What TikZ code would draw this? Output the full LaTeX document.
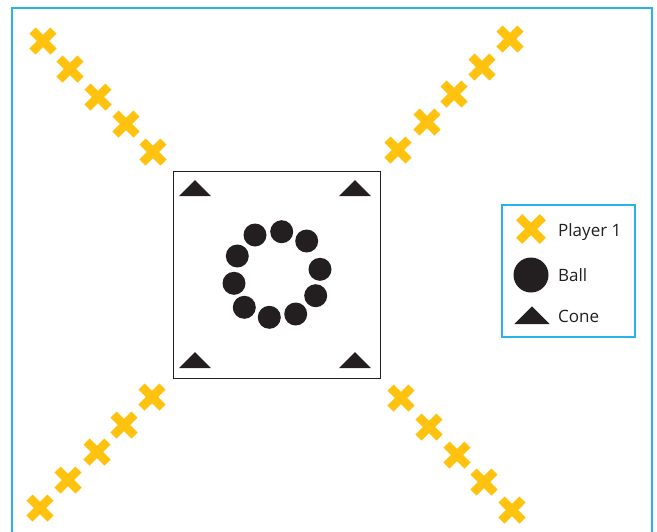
\documentclass[tikz,border=0pt]{standalone}
\usepackage{fontspec}
\setmainfont{Open Sans}
\usepackage{tikz}
\definecolor{cPlayer}{RGB}{255,194,14}
\definecolor{cBall}{RGB}{35,31,32}
\definecolor{cFrame}{RGB}{40,180,235}

\begin{document}
\begin{tikzpicture}[x=1pt,y=-1pt,
  player/.pic={\draw[cPlayer,line width=8.5pt] (-10.5,-10.5) -- (10.5,10.5) (-10.5,10.5) -- (10.5,-10.5);},
  ball/.style={circle,fill=cBall,minimum size=23pt,inner sep=0pt},
  cone/.pic={\fill[cBall] (-16,0) -- (16,0) -- (0,-16) -- cycle;},
  lbl/.style={anchor=west,text=cBall,inner sep=0pt,font=\fontsize{17}{20}\selectfont}]
  \useasboundingbox (0,0) rectangle (657,531);
  \clip (0,0) rectangle (657,531);
  \draw[cFrame,line width=1.5pt] (12,8) rectangle (652,560);
  % centre square with cones
  \draw[cBall,line width=1pt] (173,171) rectangle (380,378);
  \pic at (195,196) {cone};
  \pic at (355,196) {cone};
  \pic at (195,368) {cone};
  \pic at (355,368) {cone};
  % balls
  \foreach \x/\y [count=\i] in {255/235,281.7/231.7,306.7/241,320/269.3,315.7/295.7,
      295.7/314,269.3/317.3,244.3/307.3,234/283.3,237.3/256}
    \node[ball] (b\i) at (\x,\y) {};
  % players
  \foreach \x/\y [count=\i] in {43/41,70/69,98/97,126/124,153/152}
    \pic (tl\i) at (\x,\y) {player};
  \foreach \x/\y [count=\i] in {398/150,427/122,454/94,482/67,510/39}
    \pic (tr\i) at (\x,\y) {player};
  \foreach \x/\y [count=\i] in {152/397,124/425,97/452,68/480,40/508}
    \pic (bl\i) at (\x,\y) {player};
  \foreach \x/\y [count=\i] in {401/398,429/427,457/455,484/482,512/510}
    \pic (br\i) at (\x,\y) {player};
  % legend
  \draw[cFrame,line width=1.2pt] (502,205) rectangle (635,337);
  \pic[scale=1.12] (keyP) at (531,229) {player};
  \node[ball,minimum size=35pt] (keyB) at (531,275) {};
  \pic[scale=1.1] (keyC) at (532,324) {cone};
  \node[lbl] (txtP) at (558,232) {Player 1};
  \node[lbl] (txtB) at (558,275) {Ball};
  \node[lbl] (txtC) at (558,316) {Cone};
\end{tikzpicture}
\end{document}
